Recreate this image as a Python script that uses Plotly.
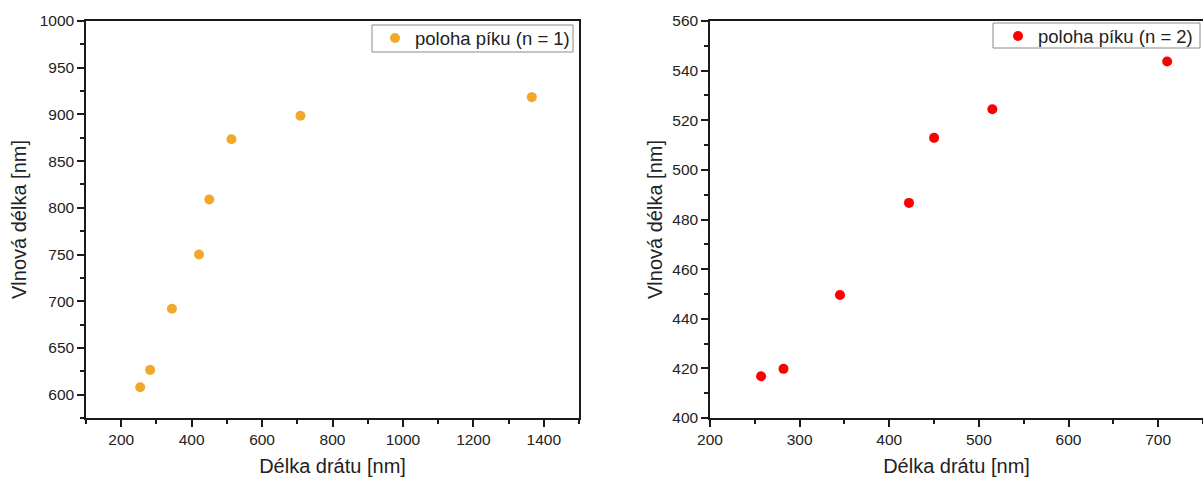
import plotly.graph_objects as go

# Data
wire_len_n1 = [254, 282, 344, 421, 450, 513, 709, 1366]
peak_n1 = [608, 626.5, 692, 750, 809, 873.5, 898.5, 918.5]

wire_len_n2 = [257, 282, 345, 422, 450, 515, 710]
peak_n2 = [416.8, 419.8, 449.6, 486.7, 512.9, 524.4, 543.7]

name_n1 = "poloha píku (n = 1)"
name_n2 = "poloha píku (n = 2)"
x_title = "Délka drátu [nm]"
y_title = "Vlnová délka [nm]"

FONT = "Arial, Liberation Sans, Helvetica, sans-serif"
AX = "#1a1a1a"

fig = go.Figure()
fig.add_trace(go.Scatter(x=wire_len_n1, y=peak_n1, mode="markers", name=name_n1,
                         marker=dict(color="#F2A82B", size=10, line=dict(width=0)),
                         xaxis="x", yaxis="y", legend="legend"))
fig.add_trace(go.Scatter(x=wire_len_n2, y=peak_n2, mode="markers", name=name_n2,
                         marker=dict(color="#FF0000", size=10, line=dict(width=0)),
                         xaxis="x2", yaxis="y2", legend="legend2"))

W, H = 1203, 479
ML, MR, MT, MB = 86, 0, 21, 61
pw = W - ML - MR
ph = H - MT - MB

def px_x(p):
    return (p - ML) / pw

def px_y(p):
    return (H - MB - p) / ph

def ax_common(title, standoff):
    return dict(
        showline=True, linecolor=AX, linewidth=1.5, mirror=True,
        ticks="outside", ticklen=7, tickwidth=1.5, tickcolor=AX,
        showgrid=False, zeroline=False,
        tickfont=dict(family=FONT, size=15.5, color="#222"),
        title=dict(text=title, font=dict(family=FONT, size=20, color="#222"), standoff=standoff),
    )

xa1 = ax_common(x_title, 12)
xa1.update(domain=[0, px_x(579)], range=[100, 1500], dtick=200, tick0=0,
           minor=dict(ticks="outside", ticklen=4, tickwidth=1.5, tickcolor=AX, dtick=100, showgrid=False),
           anchor="y")
ya1 = ax_common(y_title, 8)
ya1.update(domain=[0, 1], range=[575, 1000], dtick=50, tick0=0,
           minor=dict(ticks="outside", ticklen=4, tickwidth=1.5, tickcolor=AX, dtick=25, showgrid=False),
           anchor="x")
xa2 = ax_common(x_title, 12)
xa2.update(domain=[px_x(710), 1], range=[200, 750], dtick=100, tick0=0,
           minor=dict(ticks="outside", ticklen=4, tickwidth=1.5, tickcolor=AX, dtick=50, showgrid=False),
           anchor="y2")
ya2 = ax_common(y_title, 4)
ya2.update(domain=[0, 1], range=[400, 560], dtick=20, tick0=0,
           minor=dict(ticks="outside", ticklen=4, tickwidth=1.5, tickcolor=AX, dtick=10, showgrid=False),
           anchor="x2")

leg_common = dict(bgcolor="rgba(255,255,255,0)", borderwidth=0,
                  font=dict(family=FONT, size=18.5, color="#222"),
                  xanchor="left", yanchor="top")

box_style = dict(type="rect", xref="paper", yref="paper", layer="above",
                 line=dict(color="#8a8a8a", width=1), fillcolor="white")

fig.update_layout(
    width=W, height=H,
    margin=dict(l=ML, r=MR, t=MT, b=MB, autoexpand=False),
    paper_bgcolor="white", plot_bgcolor="white",
    xaxis=xa1, yaxis=ya1, xaxis2=xa2, yaxis2=ya2,
    legend=dict(x=px_x(375), y=px_y(19.5), **leg_common),
    legend2=dict(x=px_x(998), y=px_y(17.5), **leg_common),
    shapes=[
        dict(x0=px_x(372), x1=px_x(573), y0=px_y(52), y1=px_y(25), **box_style),
        dict(x0=px_x(993), x1=px_x(1200), y0=px_y(48), y1=px_y(23), **box_style),
    ],
    showlegend=True,
)

fig.write_html("out.html")
